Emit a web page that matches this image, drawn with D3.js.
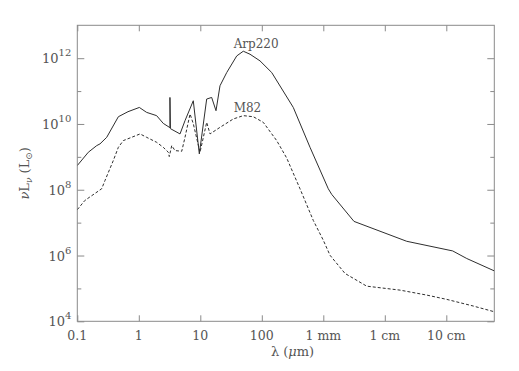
<!DOCTYPE html>
<html>
<head>
<meta charset="utf-8">
<script src="https://cdn.jsdelivr.net/npm/d3@7"></script>
<style>
  body { margin: 0; background: #fff; }
  text { font-family: "DejaVu Serif", "Liberation Serif", serif; fill: #555; }
</style>
</head>
<body>
<svg id="chart" width="519" height="371"></svg>
<script>
// wavelength in micron, luminance nu L_nu in L_sun
const arpLambda = [0.1, 0.151, 0.207, 0.234, 0.301, 0.465, 0.667, 1.02, 1.34, 1.95, 2.5, 3.21,
  3.21, 3.27, 4.68, 5.64, 7.69, 9.64, 12.7, 15.3, 18.0, 20.9, 26.9, 39.1, 50.0, 64.3, 93.5,
  145, 325, 608, 1205, 1371, 3155, 22700, 127000, 215000, 603000];
const arpLum = [5.45e8, 1.38e9, 2.2e9, 2.48e9, 3.93e9, 1.66e10, 2.36e10, 3.18e10, 2.25e10,
  1.79e10, 1.04e10, 7.73e9, 6.4e10, 7.2e9, 4.98e9, 1.26e10, 5.08e10, 1.23e9, 5.73e10,
  6.4e10, 2.53e10, 1.45e11, 3.66e11, 1.17e12, 1.63e12, 1.32e12, 8.28e11, 3.66e11,
  3.18e10, 1.95e9, 1.07e8, 7.21e7, 1.09e7, 2.71e6, 1.38e6, 8.11e5, 3.41e5];

const m82Lambda = [0.1, 0.133, 0.249, 0.282, 0.385, 0.465, 0.56, 1.05, 1.34, 1.95, 2.5, 3.02,
  3.13, 3.43, 3.88, 4.99, 5.64, 6.81, 7.69, 9.89, 12.7, 14.4, 20.9, 34.4, 50.0, 72.8, 105.7,
  174.6, 254, 418, 687, 1000, 1285, 2254, 5080, 17660, 47980, 101600, 274800, 603000];
const m82Lum = [2.48e7, 4.74e7, 1.07e8, 1.91e8, 7.73e8, 1.95e9, 3.12e9, 4.98e9, 3.93e9,
  2.77e9, 1.95e9, 1.38e9, 1.02e9, 2.2e9, 1.55e9, 1.48e9, 3.93e9, 2.01e10, 1.02e10, 1.38e9,
  1.12e10, 4.98e9, 7.89e9, 1.42e10, 1.79e10, 1.66e10, 1.12e10, 3.12e9, 9.2e8, 1.07e8,
  1.17e7, 2.91e6, 1.02e6, 2.85e5, 1.17e5, 8.87e4, 6.27e4, 4.64e4, 2.91e4, 1.95e4];

const xTickValues = [0.1, 1, 10, 100, 1000, 10000, 100000];
const xTickLabels = ["0.1", "1", "10", "100", "1 mm", "1 cm", "10 cm"];
const yMajorExp = [4, 6, 8, 10, 12];
const yMinorExp = [5, 7, 9, 11];

const width = 519, height = 371;
const margin = { top: 25.3, right: 24.7, bottom: 49.7, left: 77.3 };
const plotW = width - margin.left - margin.right;
const plotH = height - margin.top - margin.bottom;

const svg = d3.select("#chart");
const g = svg.append("g").attr("transform", `translate(${margin.left},${margin.top})`);

const x = d3.scaleLog().domain([0.1, 603000]).range([0, plotW]);
const y = d3.scaleLog().domain([1e4, 1e13]).range([plotH, 0]);

const frameColor = "#8a8a8a";
const lineColor = "#2e2e2e";

// ticks, pointing inward on all four sides
const tickOnly = (axis) => axis.tickFormat("").tickSizeOuter(0);

g.append("g").attr("transform", `translate(0,${plotH})`)
  .call(tickOnly(d3.axisBottom(x).tickValues(xTickValues).tickSizeInner(-6)));
g.append("g")
  .call(tickOnly(d3.axisTop(x).tickValues(xTickValues).tickSizeInner(-6)));
g.append("g")
  .call(tickOnly(d3.axisLeft(y).tickValues(yMajorExp.map(e => Math.pow(10, e))).tickSizeInner(-7)));
g.append("g")
  .call(tickOnly(d3.axisLeft(y).tickValues(yMinorExp.map(e => Math.pow(10, e))).tickSizeInner(-4)));
g.append("g").attr("transform", `translate(${plotW},0)`)
  .call(tickOnly(d3.axisRight(y).tickValues(yMajorExp.map(e => Math.pow(10, e))).tickSizeInner(-7)));
g.append("g").attr("transform", `translate(${plotW},0)`)
  .call(tickOnly(d3.axisRight(y).tickValues(yMinorExp.map(e => Math.pow(10, e))).tickSizeInner(-4)));

g.selectAll(".domain").remove();
g.selectAll(".tick line").attr("stroke", frameColor).attr("stroke-width", 1);

g.append("rect")
  .attr("width", plotW).attr("height", plotH)
  .attr("fill", "none").attr("stroke", frameColor).attr("stroke-width", 1);

// x tick labels
g.selectAll(".xlab")
  .data(xTickValues)
  .enter().append("text")
  .attr("class", "xlab")
  .attr("x", d => x(d))
  .attr("y", plotH + 19)
  .attr("text-anchor", "middle")
  .attr("font-size", 12.5)
  .text((d, i) => xTickLabels[i]);

// y tick labels with superscript exponents
const ylab = g.selectAll(".ylab")
  .data(yMajorExp)
  .enter().append("text")
  .attr("class", "ylab")
  .attr("x", -6)
  .attr("y", d => y(Math.pow(10, d)) + 5)
  .attr("text-anchor", "end")
  .attr("font-size", 13);
ylab.append("tspan").text("10");
ylab.append("tspan").attr("dy", -7).attr("font-size", 10).text(d => d);

// axis titles
const xt = svg.append("text")
  .attr("x", margin.left + x(316))
  .attr("y", 356)
  .attr("text-anchor", "middle")
  .attr("font-size", 13);
xt.append("tspan").text("λ (");
xt.append("tspan").attr("font-style", "italic").text("μ");
xt.append("tspan").text("m)");

const yt = svg.append("text")
  .attr("transform", `translate(29,${margin.top + plotH / 2}) rotate(-90)`)
  .attr("text-anchor", "middle")
  .attr("font-size", 13);
yt.append("tspan").attr("font-style", "italic").text("ν");
yt.append("tspan").text("L");
yt.append("tspan").attr("dy", 3).attr("font-size", 9).attr("font-style", "italic").text("ν");
yt.append("tspan").attr("dy", -3).text(" (L");
yt.append("tspan").attr("dy", 3).attr("font-size", 9).text("⊙");
yt.append("tspan").attr("dy", -3).text(")");

// curves
const line = d3.line()
  .x(d => x(d[0]))
  .y(d => y(d[1]));

g.append("clipPath").attr("id", "plot-clip")
  .append("rect").attr("width", plotW).attr("height", plotH);

g.append("path")
  .datum(d3.zip(arpLambda, arpLum))
  .attr("d", line)
  .attr("fill", "none")
  .attr("stroke", lineColor)
  .attr("stroke-width", 1)
  .attr("clip-path", "url(#plot-clip)");

g.append("path")
  .datum(d3.zip(m82Lambda, m82Lum))
  .attr("d", line)
  .attr("fill", "none")
  .attr("stroke", lineColor)
  .attr("stroke-width", 1)
  .attr("stroke-dasharray", "3,2")
  .attr("clip-path", "url(#plot-clip)");

// curve labels
g.append("text")
  .attr("x", x(39) - 3).attr("y", y(2.0e12))
  .attr("font-size", 12)
  .text("Arp220");
g.append("text")
  .attr("x", x(39) - 3).attr("y", y(2.35e10))
  .attr("font-size", 12)
  .text("M82");
</script>
</body>
</html>
